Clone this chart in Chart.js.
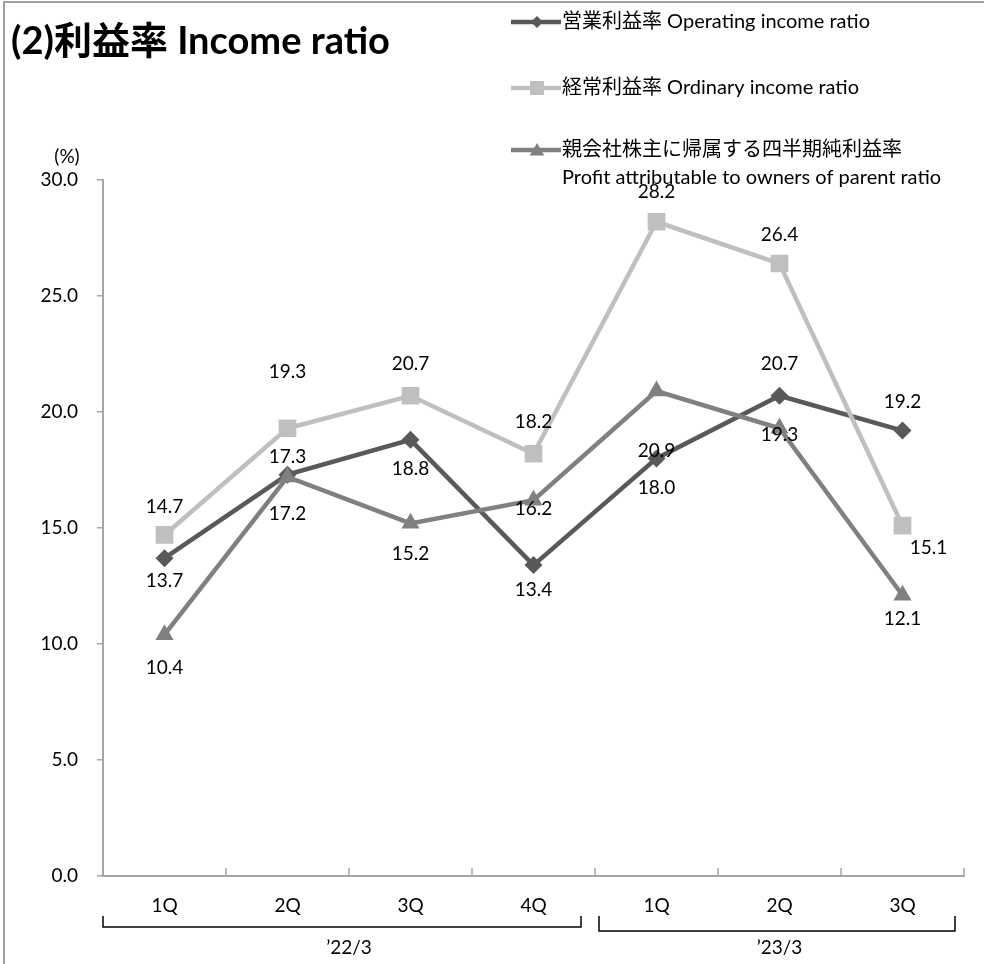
<!DOCTYPE html>
<html><head><meta charset="utf-8">
<script src="https://cdn.jsdelivr.net/npm/chart.js@4/dist/chart.umd.min.js"></script>
<style>html,body{margin:0;padding:0;background:#fff}#wrap{width:984px;height:964px;position:relative}</style>
</head><body><div id="wrap"><canvas id="c" width="984" height="964"></canvas></div>
<script>
const categories = ['1Q','2Q','3Q','4Q','1Q','2Q','3Q'];
const fiscalGroups = ['’22/3','’23/3'];
const groupSpans = [[0,3],[4,6]];
const operatingRatio = [13.7,17.3,18.8,13.4,18.0,20.7,19.2];
const ordinaryRatio = [14.7,19.3,20.7,18.2,28.2,26.4,15.1];
const profitRatio = [10.4,17.2,15.2,16.2,20.9,19.3,12.1];
const yTicks = [0,5,10,15,20,25,30];
const seriesNames = ['営業利益率 Operating income ratio','経常利益率 Ordinary income ratio','親会社株主に帰属する四半期純利益率'];
const seriesSubName = 'Profit attributable to owners of parent ratio';
const titleText = '(2)利益率 Income ratio';
const unitText = '(%)';

// label placement offsets (px) per point
const opLabelOff = [[0,23],[0,-18],[0,29],[0,25],[0,29],[0,-32],[0,-29]];
const ordLabelOff = [[0,-28],[0,-56],[0,-32],[0,-32],[0,-30],[0,-29],[26,22]];
const profLabelOff = [[0,33],[0,37],[0,31],[0,9],[0,60],[0,7],[0,24]];

const C_OP = '#595959', C_ORD = '#BFBFBF', C_PROF = '#808080';
const AXIS = '#a6a6a6';
const FONT = "Lato, 'Noto Sans CJK JP', sans-serif";

function marker(ctx, style, x, y, s, color){
  ctx.save(); ctx.fillStyle = color; ctx.beginPath();
  if(style==='diamond'){ctx.moveTo(x,y-s);ctx.lineTo(x+s,y);ctx.lineTo(x,y+s);ctx.lineTo(x-s,y);}
  else if(style==='square'){ctx.rect(x-s,y-s,2*s,2*s);}
  else {ctx.moveTo(x,y-s);ctx.lineTo(x+s*1.05,y+s*0.8);ctx.lineTo(x-s*1.05,y+s*0.8);}
  ctx.closePath(); ctx.fill(); ctx.restore();
}

const decor = {
  id:'decor',
  afterDraw(chart){
    const ctx = chart.ctx;
    const xs = chart.scales.x;
    ctx.save();
    // frame
    ctx.strokeStyle = '#a0a0a0'; ctx.lineWidth = 2;
    ctx.beginPath(); ctx.moveTo(4,964); ctx.lineTo(4,2); ctx.lineTo(984,2); ctx.stroke();
    // title
    ctx.fillStyle = '#000'; ctx.textBaseline = 'middle'; ctx.textAlign = 'left';
    ctx.font = "bold 38px " + FONT;
    ctx.fillText(titleText, 11, 42);
    // unit
    ctx.font = "19px " + FONT; ctx.textAlign = 'center';
    ctx.fillText(unitText, 67, 157);
    // legend
    const legY = [22, 88, 150];
    const cols = [C_OP, C_ORD, C_PROF];
    const styles = ['diamond','square','triangle'];
    const ms = [6,7,7];
    for(let i=0;i<3;i++){
      ctx.strokeStyle = cols[i]; ctx.lineWidth = 4.5;
      ctx.beginPath(); ctx.moveTo(511,legY[i]); ctx.lineTo(561,legY[i]); ctx.stroke();
      marker(ctx, styles[i], 537, legY[i], ms[i], cols[i]);
      ctx.fillStyle = '#000'; ctx.textAlign = 'left'; ctx.font = "20px " + FONT;
      ctx.fillText(seriesNames[i], 562, legY[i]);
    }
    ctx.fillText(seriesSubName, 562, 178);
    // x inner ticks
    const hw = (xs.getPixelForValue(1) - xs.getPixelForValue(0))/2;
    const bottom = chart.chartArea.bottom;
    ctx.strokeStyle = AXIS; ctx.lineWidth = 1.5;
    for(let i=0;i<=categories.length;i++){
      const bx = xs.getPixelForValue(0) - hw + i*2*hw;
      ctx.beginPath(); ctx.moveTo(bx,bottom); ctx.lineTo(bx,bottom-8); ctx.stroke();
    }
    // group brackets
    ctx.strokeStyle = '#000'; ctx.lineWidth = 1.5;
    const gb = [[0,-14,927],[4,-9,931]];
    groupSpans.forEach((sp,g)=>{
      const x0 = xs.getPixelForValue(sp[0]) - hw + (g===0?0:4);
      const x1 = xs.getPixelForValue(sp[1]) + hw + gb[g][1];
      const yb = gb[g][2];
      ctx.beginPath(); ctx.moveTo(x0,916); ctx.lineTo(x0,yb); ctx.lineTo(x1,yb); ctx.lineTo(x1,916); ctx.stroke();
      const cx = (xs.getPixelForValue(sp[0]) - hw + xs.getPixelForValue(sp[1]) + hw)/2;
      ctx.fillStyle = '#000'; ctx.textAlign = 'center'; ctx.font = "19px " + FONT;
      ctx.fillText(fiscalGroups[g], cx, 948);
    });
    // data labels
    const offs = [opLabelOff, ordLabelOff, profLabelOff];
    ctx.font = "19px " + FONT; ctx.fillStyle = '#000'; ctx.textAlign = 'center'; ctx.textBaseline = 'middle';
    chart.data.datasets.forEach((ds,di)=>{
      const meta = chart.getDatasetMeta(di);
      meta.data.forEach((pt,i)=>{
        const o = offs[di][i];
        ctx.fillText(ds.data[i].toFixed(1), pt.x + o[0], pt.y + o[1]);
      });
    });
    ctx.restore();
  }
};

new Chart(document.getElementById('c'), {
  type:'line',
  data:{
    labels: categories,
    datasets:[
      {label:seriesNames[0], data:operatingRatio, borderColor:C_OP, backgroundColor:C_OP, borderWidth:4.5, pointStyle:'rectRot', pointRadius:9, pointBorderWidth:0, order:3},
      {label:seriesNames[1], data:ordinaryRatio, borderColor:C_ORD, backgroundColor:C_ORD, borderWidth:4.5, pointStyle:'rect', pointRadius:12.5, pointBorderWidth:0, order:2},
      {label:seriesNames[2], data:profitRatio, borderColor:C_PROF, backgroundColor:C_PROF, borderWidth:4.5, pointStyle:'triangle', pointRadius:10.5, pointBorderWidth:0, order:1}
    ]
  },
  options:{
    responsive:false, animation:false, devicePixelRatio:1,
    layout:{padding:{top:180,right:20,left:0,bottom:0}},
    plugins:{legend:{display:false}, tooltip:{enabled:false}},
    elements:{line:{tension:0}},
    scales:{
      x:{
        offset:true,
        grid:{display:true, drawOnChartArea:false, drawTicks:false},
        border:{display:true, color:AXIS, width:2},
        ticks:{font:{family:FONT,size:19}, color:'#000', padding:18, maxRotation:0},
        afterFit(s){ s.height = 88; }
      },
      y:{
        min:0, max:30,
        afterBuildTicks(s){ s.ticks = yTicks.map(v=>({value:v})); },
        grid:{drawOnChartArea:false, drawTicks:true, tickLength:6, color:AXIS, lineWidth:1.5},
        border:{display:true, color:AXIS, width:2},
        ticks:{font:{family:FONT,size:19}, color:'#000', padding:19, callback:v=>Number(v).toFixed(1)},
        afterFit(s){ s.width = 103; }
      }
    }
  },
  plugins:[decor]
});
</script>
</body></html>
